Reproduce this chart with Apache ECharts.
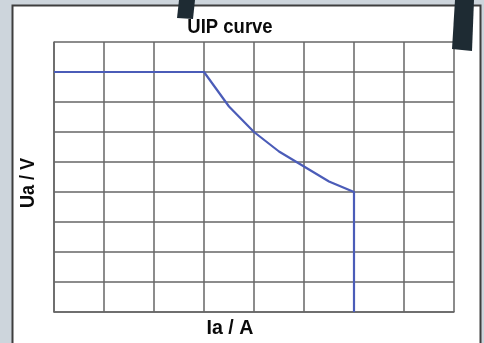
<!DOCTYPE html>
<html>
<head>
<meta charset="utf-8">
<script src="https://cdn.jsdelivr.net/npm/echarts@6/dist/echarts.min.js"></script>
<style>
  html, body { margin: 0; padding: 0; background: #cdd5dc; }
  #chart { width: 484px; height: 343px; }
</style>
</head>
<body>
<div id="chart"></div>
<script>
// U/I characteristic: constant voltage, then constant power, then current limit
const currentA = [0, 3, 3.5, 4, 4.5, 5, 5.5, 6, 6];
const voltageV = [8, 8, 6.85, 6.0, 5.35, 4.85, 4.35, 4.0, 0];
const titleText = 'UIP curve';
const xName = 'Ia / A';
const yName = 'Ua / V';

const font = '"Liberation Sans", Arial, sans-serif';
const gridColor = '#666666';
const textColor = '#0a0a0a';

const chart = echarts.init(document.getElementById('chart'), null, { renderer: 'canvas' });

function label(text, x, y, size, sx, rot) {
  return {
    type: 'text', z: 50, x: x, y: y, scaleX: sx, rotation: rot || 0,
    style: {
      text: text, x: 0, y: 0, align: 'center', verticalAlign: 'middle',
      font: 'bold ' + size + 'px ' + font, fill: textColor
    }
  };
}

chart.setOption({
  backgroundColor: '#cdd5dc',
  animation: false,
  graphic: [
    // white card
    { type: 'rect', z: -10, shape: { x: 12.5, y: 5.5, width: 468, height: 345 },
      style: { fill: '#ffffff', stroke: '#3e3e3e', lineWidth: 2 } },
    // clips holding the card
    { type: 'polygon', z: 100, shape: { points: [[179, 0], [195, 0], [193, 19], [177, 18]] },
      style: { fill: '#1e2b33' } },
    { type: 'polygon', z: 100, shape: { points: [[455, 0], [474, 0], [472, 51], [452, 49]] },
      style: { fill: '#1e2b33' } },
    label(titleText, 230, 27.5, 21, 0.88),
    label(xName, 230, 328, 20, 0.98),
    label(yName, 28, 183, 20, 0.9, Math.PI / 2)
  ],
  grid: { left: 54, top: 42, width: 400, height: 270, containLabel: false, outerBoundsMode: 'none' },
  xAxis: {
    type: 'value', min: 0, max: 8, interval: 1,
    axisLine: { show: true, lineStyle: { color: gridColor, width: 1.5 } },
    axisTick: { show: false }, axisLabel: { show: false },
    splitLine: { show: true, lineStyle: { color: gridColor, width: 1.5 } }
  },
  yAxis: {
    type: 'value', min: 0, max: 9, interval: 1,
    axisLine: { show: true, lineStyle: { color: gridColor, width: 1.5 } },
    axisTick: { show: false }, axisLabel: { show: false },
    splitLine: { show: true, lineStyle: { color: gridColor, width: 1.5 } }
  },
  series: [{
    type: 'line',
    data: currentA.map((x, i) => [x, voltageV[i]]),
    showSymbol: false,
    lineStyle: { color: '#4b5cb8', width: 2.2 }
  }]
});
</script>
</body>
</html>
